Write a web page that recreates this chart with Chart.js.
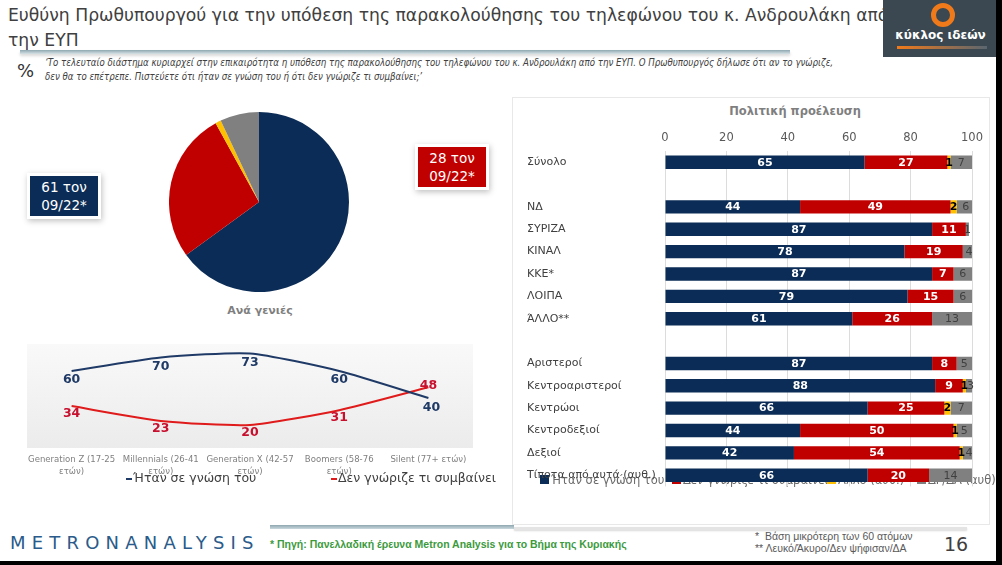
<!DOCTYPE html>
<html>
<head>
<meta charset="utf-8">
<script src="https://cdn.jsdelivr.net/npm/chart.js@4.4.1/dist/chart.umd.min.js"></script>
<style>
  body { margin: 0; width: 1002px; height: 565px; background: #fff; position: relative; overflow: hidden; font-family: "DejaVu Sans", sans-serif; }
  .abs { position: absolute; }
  .title { left: 8px; top: 3px; font-size: 17.2px; line-height: 24.5px; color: #404040; white-space: nowrap; }
  .rule { left: 20px; top: 50px; width: 770px; height: 4px; background: linear-gradient(#8fa7b0, #d6e2e6); box-shadow: 0 2px 3px rgba(0,0,0,.15); }
  .pct { left: 17px; top: 60px; font-size: 18px; color: #333; }
  .question { left: 45px; top: 56px; font-family: "DejaVu Sans Condensed", sans-serif; font-style: italic; font-size: 9.6px; line-height: 14px; color: #404040; white-space: nowrap; }
  .logo { left: 883px; top: 0; width: 115px; height: 57px; background: #3b4852; }
  .ring { left: 48px; top: 3px; width: 14px; height: 14px; border: 5px solid #f07a1a; border-radius: 50%; }
  .logotext { left: 0; width: 115px; top: 28px; text-align: center; color: #fff; font-weight: bold; font-size: 12px; }
  .logoline { left: 14px; top: 46px; width: 90px; height: 3px; background: linear-gradient(90deg, #f07a1a, #5a6670); }
  .box { width: 68px; height: 40px; color: #fff; font-size: 13.5px; line-height: 18px; text-align: center; padding-top: 2px; box-sizing: border-box; outline: 3px solid #fff; box-shadow: 1px 2px 6px 3px rgba(0,0,0,.25); }
  .sub { left: 160px; top: 304px; width: 200px; text-align: center; font-size: 11px; font-weight: bold; color: #7f7f7f; }
  .panel { left: 512px; top: 97px; width: 478px; height: 428px; border: 1px solid #e8e8e8; box-sizing: border-box; }
  .ptitle { left: 700px; top: 104px; width: 190px; text-align: center; font-size: 11.5px; font-weight: bold; color: #7f7f7f; }
  .leg { font-size: 11.5px; color: #6a6a6a; white-space: nowrap; }
  .sq { display: inline-block; width: 9px; height: 9px; margin-right: 2px; }
  .lleg { font-size: 12.5px; color: #404040; white-space: nowrap; }
  .dash { display: inline-block; width: 6px; height: 2px; vertical-align: middle; margin-right: 1px; }
  .metron { left: 10px; top: 532px; font-size: 18px; letter-spacing: 6.2px; color: #2a5b8a; }
  .source { left: 270px; top: 538px; font-family: "Liberation Sans Narrow", sans-serif; font-weight: bold; font-size: 10.5px; color: #3c9a3c; white-space: nowrap; }
  .notes { left: 755px; top: 531px; font-family: "Liberation Sans Narrow", sans-serif; font-size: 10.5px; line-height: 11.5px; color: #595959; white-space: nowrap; }
  .page { left: 944px; top: 533px; font-size: 19px; color: #404040; }
  .frule1 { left: 270px; top: 525px; width: 244px; height: 4px; background: linear-gradient(#8fa7b0, #c9d8dd); }
  .frule2 { left: 514px; top: 527px; width: 453px; height: 3px; background: #e4e4e4; box-shadow: 0 1px 2px rgba(0,0,0,.15); }
  canvas { position: absolute; }
</style>
</head>
<body>
<div class="abs title">Ευθύνη Πρωθυπουργού για την υπόθεση της παρακολούθησης του τηλεφώνου του κ. Ανδρουλάκη από<br>την ΕΥΠ</div>
<div class="abs rule"></div>
<div class="abs pct">%</div>
<div class="abs question">‘Το τελευταίο διάστημα κυριαρχεί στην επικαιρότητα η υπόθεση της παρακολούθησης του τηλεφώνου του κ. Ανδρουλάκη από την ΕΥΠ. Ο Πρωθυπουργός δήλωσε ότι αν το γνώριζε,<br>δεν θα το επέτρεπε. Πιστεύετε ότι ήταν σε γνώση του ή ότι δεν γνώριζε τι συμβαίνει;’</div>
<div class="abs logo">
  <div class="abs ring"></div>
  <div class="abs logotext">κύκλος ιδεών</div>
  <div class="abs logoline"></div>
</div>

<canvas id="pie" width="180" height="180" style="left:169px; top:112px;"></canvas>
<div class="abs box" style="left:30px; top:176px; background:#0b2c56;">61 τον<br>09/22*</div>
<div class="abs box" style="left:418px; top:147px; background:#c00000;">28 τον<br>09/22*</div>
<div class="abs sub">Ανά γενιές</div>

<canvas id="line" width="500" height="150" style="left:0; top:330px;"></canvas>
<div class="abs lleg" style="left:126px; top:470px;"><span class="dash" style="background:#1f3a66"></span>Ήταν σε γνώση του</div>
<div class="abs lleg" style="left:331px; top:470px;"><span class="dash" style="background:#e01b1b"></span>Δεν γνώριζε τι συμβαίνει</div>

<div class="abs panel"></div>
<div class="abs ptitle">Πολιτική προέλευση</div>
<div class="abs leg" style="left:540px; top:473px;"><span class="sq" style="background:#0b2c56"></span>Ήταν σε γνώση του</div>
<div class="abs leg" style="left:672px; top:473px;"><span class="sq" style="background:#c00000"></span>Δεν γνώριζε τι συμβαίνει</div>
<div class="abs leg" style="left:827px; top:473px;"><span class="sq" style="background:#ffc000"></span>Άλλο (αυθ.)</div>
<div class="abs leg" style="left:917px; top:473px;"><span class="sq" style="background:#808080"></span>ΔΓ/ΔΑ (αυθ)</div>
<canvas id="bars" width="475" height="396" style="left:515px; top:100px; z-index:2;"></canvas>

<div class="abs frule1"></div>
<div class="abs frule2"></div>
<div class="abs metron">METRONANALYSIS</div>
<div class="abs source">* Πηγή: Πανελλαδική έρευνα Metron Analysis για το Βήμα της Κυριακής</div>
<div class="abs notes">*&nbsp; Βάση μικρότερη των 60 ατόμων<br>** Λευκό/Άκυρο/Δεν ψήφισαν/ΔΑ</div>
<div class="abs page">16</div>
<div class="abs" style="left:996px; top:0; width:6px; height:565px; background:#000;"></div>
<div class="abs" style="left:0; top:561px; width:1002px; height:4px; background:#000;"></div>

<script>
// ---- data ----
const answerLabels = ['Ήταν σε γνώση του', 'Δεν γνώριζε τι συμβαίνει', 'Άλλο (αυθ.)', 'ΔΓ/ΔΑ (αυθ)'];
const totalValues = [65, 27, 1, 7];

const generations = [
  ['Generation Z (17-25', 'ετών)'],
  ['Millennials (26-41', 'ετών)'],
  ['Generation X (42-57', 'ετών)'],
  ['Boomers (58-76', 'ετών)'],
  'Silent (77+ ετών)'
];
const knewByGen = [60, 70, 73, 60, 40];
const didntKnowByGen = [34, 23, 20, 31, 48];

const groups = ['Σύνολο', '', 'ΝΔ', 'ΣΥΡΙΖΑ', 'ΚΙΝΑΛ', 'ΚΚΕ*', 'ΛΟΙΠΑ', 'ΆΛΛΟ**', '',
  'Αριστεροί', 'Κεντροαριστεροί', 'Κεντρώοι', 'Κεντροδεξιοί', 'Δεξιοί', 'Τίποτα από αυτά (αυθ.)'];
const knewByGroup =      [65, null, 44, 87, 78, 87, 79, 61, null, 87, 88, 66, 44, 42, 66];
const didntKnowByGroup = [27, null, 49, 11, 19,  7, 15, 26, null,  8,  9, 25, 50, 54, 20];
const otherByGroup =     [ 1, null,  2,  0,  0,  0,  0,  0, null,  0,  1,  2,  1,  1,  0];
const dkByGroup =        [ 7, null,  6,  1,  4,  6,  6, 13, null,  5,  3,  7,  5,  4, 14];
const percentTicks = [0, 20, 40, 60, 80, 100];

const NAVY = '#0b2c56', RED = '#c00000', YELLOW = '#ffc000', GREY = '#808080';
Chart.defaults.font.family = '"DejaVu Sans", sans-serif';
Chart.defaults.animation = false;

// ---- pie ----
new Chart(document.getElementById('pie'), {
  type: 'pie',
  data: { labels: answerLabels, datasets: [{ data: totalValues, backgroundColor: [NAVY, RED, YELLOW, GREY], borderWidth: 0 }] },
  options: { responsive: false, plugins: { legend: { display: false }, tooltip: { enabled: false } } }
});

// ---- line chart by generation ----
const plotBg = {
  id: 'plotBg',
  beforeDraw(chart) {
    const a = chart.chartArea, ctx = chart.ctx;
    const g = ctx.createLinearGradient(0, a.top, 0, a.bottom);
    g.addColorStop(0, '#f9f9f9');
    g.addColorStop(1, '#ebebeb');
    ctx.save();
    ctx.fillStyle = g;
    ctx.fillRect(a.left, a.top, a.right - a.left, a.bottom - a.top - 4);
    ctx.restore();
  }
};
const lineLabels = {
  id: 'lineLabels',
  afterDatasetsDraw(chart) {
    const ctx = chart.ctx;
    ctx.save();
    ctx.font = 'bold 12.5px "DejaVu Sans"';
    ctx.textAlign = 'center';
    ctx.textBaseline = 'middle';
    chart.data.datasets.forEach((ds, i) => {
      const meta = chart.getDatasetMeta(i);
      ctx.fillStyle = i === 0 ? '#1f3a66' : '#c8102e';
      meta.data.forEach((pt, j) => {
        let dy = i === 0 ? 9 : 8, dx = 0;
        if (i === 1 && j === ds.data.length - 1) dy = -1;
        if (i === 0 && j === ds.data.length - 1) { dx = 3; dy = 10; }
        ctx.fillText(ds.data[j], pt.x + dx, pt.y + dy);
      });
    });
    ctx.restore();
  }
};
new Chart(document.getElementById('line'), {
  type: 'line',
  data: {
    labels: generations,
    datasets: [
      { label: 'Ήταν σε γνώση του', data: knewByGen, borderColor: '#1f3a66', borderWidth: 2, pointRadius: 0, tension: 0.2 },
      { label: 'Δεν γνώριζε τι συμβαίνει', data: didntKnowByGen, borderColor: '#e01b1b', borderWidth: 2, pointRadius: 0, tension: 0.2 }
    ]
  },
  options: {
    responsive: false,
    layout: { padding: { left: 27, right: 27, top: 14, bottom: 0 } },
    plugins: { legend: { display: false }, tooltip: { enabled: false } },
    scales: {
      y: { display: false, min: 0, max: 80 },
      x: {
        offset: true,
        grid: { display: false },
        border: { display: false },
        ticks: { color: '#7f7f7f', font: { size: 9.5, family: '"DejaVu Sans Condensed"' }, padding: -6, maxRotation: 0, autoSkip: false },
        afterFit(scale) { scale.height = 28; }
      }
    }
  },
  plugins: [plotBg, lineLabels]
});

// ---- stacked bars by political origin ----
const labelStyles = [
  { color: '#fff', font: 'bold 11px "DejaVu Sans"' },
  { color: '#fff', font: 'bold 11px "DejaVu Sans"' },
  { color: '#000', font: 'bold 11px "DejaVu Sans"' },
  { color: '#404040', font: '11px "DejaVu Sans"' }
];
const barLabels = {
  id: 'barLabels',
  afterDatasetsDraw(chart) {
    const ctx = chart.ctx;
    ctx.save();
    ctx.textAlign = 'center';
    ctx.textBaseline = 'middle';
    chart.data.datasets.forEach((ds, i) => {
      const meta = chart.getDatasetMeta(i);
      ctx.fillStyle = labelStyles[i].color;
      ctx.font = labelStyles[i].font;
      meta.data.forEach((bar, j) => {
        const v = ds.data[j];
        if (!v) return;
        const c = bar.getCenterPoint();
        ctx.fillText(v, c.x, c.y + 0.5);
      });
    });
    ctx.restore();
  }
};
new Chart(document.getElementById('bars'), {
  type: 'bar',
  data: {
    labels: groups,
    datasets: [
      { label: answerLabels[0], data: knewByGroup, backgroundColor: NAVY },
      { label: answerLabels[1], data: didntKnowByGroup, backgroundColor: RED },
      { label: answerLabels[2], data: otherByGroup, backgroundColor: YELLOW },
      { label: answerLabels[3], data: dkByGroup, backgroundColor: GREY }
    ]
  },
  options: {
    responsive: false,
    indexAxis: 'y',
    layout: { padding: { left: 12, right: 18, top: 0, bottom: 5 } },
    datasets: { bar: { categoryPercentage: 1, barPercentage: 0.6, borderWidth: 0 } },
    plugins: { legend: { display: false }, tooltip: { enabled: false } },
    scales: {
      x: {
        stacked: true, position: 'top', min: 0, max: 100,
        afterBuildTicks(scale) { scale.ticks = percentTicks.map(v => ({ value: v })); },
        grid: { color: '#dcdcdc', drawTicks: false },
        border: { display: false },
        ticks: { color: '#595959', font: { size: 11.5 }, padding: 6 },
        afterFit(scale) { scale.height = 51; }
      },
      y: {
        stacked: true,
        grid: { display: false },
        border: { display: false },
        ticks: { color: '#404040', font: { size: 11 }, crossAlign: 'far', autoSkip: false },
        afterFit(scale) { scale.width = 138; }
      }
    }
  },
  plugins: [barLabels]
});
</script>
</body>
</html>
